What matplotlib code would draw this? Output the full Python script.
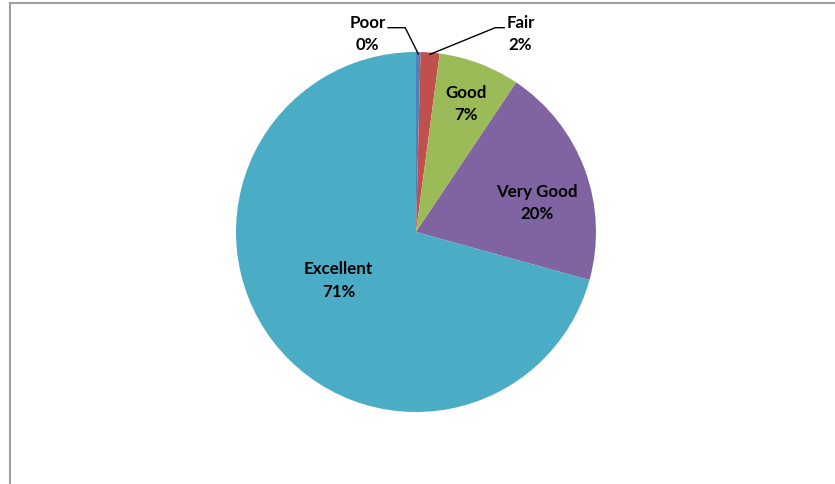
#!/usr/bin/env python3
"""
Pie chart of rating shares (Poor .. Excellent), Excel 2007 style.
"""

import matplotlib

matplotlib.use("Agg")
import matplotlib.pyplot as plt
from matplotlib.lines import Line2D
import numpy as np

categories = ["Poor", "Fair", "Good", "Very Good", "Excellent"]
shares = [0.4, 1.7, 7.3, 19.9, 70.7]
colors = ["#4F81BD", "#C0504D", "#9BBB59", "#8064A2", "#4BACC6"]

# label placement (in pie-radius units), inside labels and outside ones with leaders
label_pos = {
    "Poor": (-0.27, 1.10),
    "Fair": (0.58, 1.10),
    "Good": (0.28, 0.71),
    "Very Good": (0.67, 0.16),
    "Excellent": (-0.43, -0.27),
}
# leader: text-side start and elbow for the outside labels
leaders = {
    "Poor": [(-0.155, 1.135), (-0.06, 1.135)],
    "Fair": [(0.49, 1.135), (0.44, 1.135)],
}

plt.rcParams["font.family"] = ["Lato", "DejaVu Sans"]

W, H = 835, 484
fig = plt.figure(figsize=(W / 100, H / 100), dpi=100)
cx, cy, r = 416, 232, 180
ax = fig.add_axes([(cx - r) / W, (H - cy - r) / H, 2 * r / W, 2 * r / H])

wedges, _ = ax.pie(
    shares,
    colors=colors,
    startangle=90,
    counterclock=False,
    radius=1,
    wedgeprops=dict(linewidth=0),
)
ax.set_xlim(-1, 1)
ax.set_ylim(-1, 1)
ax.set_aspect("equal")
ax.axis("off")

total = sum(shares)
for w, name, val in zip(wedges, categories, shares):
    x, y = label_pos[name]
    ax.text(x, y, f"{name}\n{round(val / total * 100):.0f}%", ha="center", va="center",
            fontsize=12.2, fontweight="bold", linespacing=1.5, clip_on=False)
    if name in leaders:
        mid = np.deg2rad((w.theta1 + w.theta2) / 2)
        tip = (np.cos(mid) * 0.99, np.sin(mid) * 0.99)
        pts = leaders[name] + [tip]
        xs, ys = zip(*pts)
        ax.plot(xs, ys, color="black", linewidth=1, clip_on=False)

# chart area border (left and top edges visible)
border = "#A0A0A0"
fig.add_artist(Line2D([10 / W, 10 / W], [0, (H - 3) / H], color=border, linewidth=1.5))
fig.add_artist(Line2D([10 / W, 1], [(H - 3) / H, (H - 3) / H], color=border, linewidth=1.5))

fig.savefig("out.png", dpi=100, facecolor="white")
